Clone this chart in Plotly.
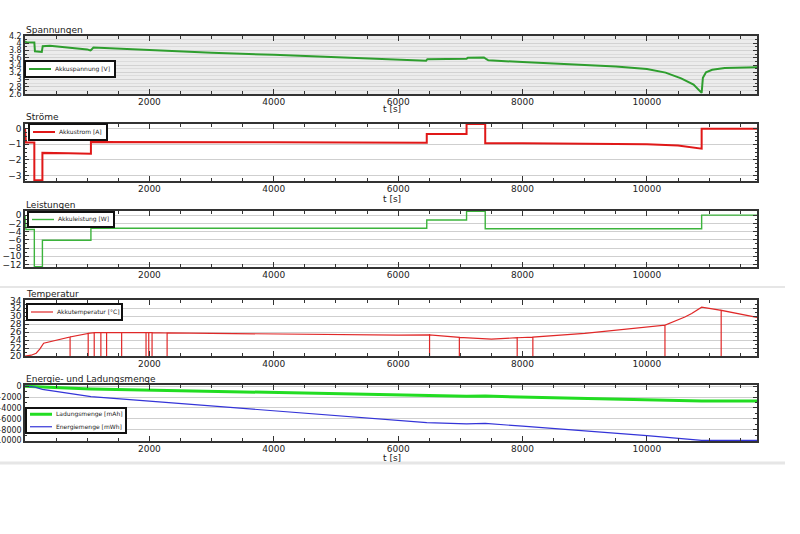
import plotly.graph_objects as go

W, H = 800, 534

# ---------------- data ----------------
t_voltage = [0, 20, 150, 160, 270, 285, 400, 700, 1000, 1050, 1060, 1100, 1500, 2000,
             3000, 4000, 5000, 6000, 6450, 6470, 7100, 7120, 7380, 7420, 7450, 8000,
             9000, 9500, 10000, 10300, 10550, 10750, 10880, 10900, 10950, 11050, 11250, 11770]
voltage = [4.05, 4.03, 4.02, 3.78, 3.76, 3.92, 3.93, 3.88, 3.83, 3.80, 3.81, 3.88, 3.85, 3.80,
           3.74, 3.68, 3.61, 3.54, 3.52, 3.56, 3.57, 3.60, 3.61, 3.56, 3.53, 3.48,
           3.41, 3.36, 3.29, 3.19, 3.03, 2.86, 2.63, 3.05, 3.20, 3.27, 3.32, 3.34]

t_current = [0, 15, 150, 150, 280, 280, 700, 1060, 1060, 2000, 4000, 6460, 6460, 7100, 7100,
             7400, 7400, 8000, 9000, 10000, 10500, 10880, 10880, 11770]
current = [0.0, -0.88, -0.88, -3.3, -3.3, -1.55, -1.58, -1.6, -0.85, -0.85, -0.87, -0.9, -0.34,
           -0.34, 0.3, 0.3, -0.93, -0.93, -0.95, -1.0, -1.08, -1.28, 0.0, 0.0]

t_power = [0, 15, 150, 150, 280, 280, 1060, 1060, 6460, 6460, 7100, 7100, 7400, 7400,
           10880, 10880, 11770]
power = [0.0, -3.5, -3.5, -12.5, -12.5, -6.1, -6.1, -3.2, -3.2, -1.2, -1.2, 0.9, 0.9, -3.3,
         -3.3, 0.0, 0.0]

t_temp = [0, 100, 180, 240, 300, 400, 725, 1016, 1113, 1220, 1312, 1554, 1946, 1990, 2043,
          2285, 3000, 4000, 5000, 6000, 6505, 6984, 7500, 7914, 8166, 9000, 9500, 10290,
          10610, 10720, 10880, 11194, 11770]
temp = [20.0, 20.2, 20.7, 21.8, 23.2, 23.6, 24.8, 25.7, 25.9, 25.9, 25.9, 25.9, 25.9, 25.9,
        25.9, 25.8, 25.7, 25.5, 25.4, 25.25, 25.3, 24.7, 24.25, 24.6, 24.75, 25.7, 26.5, 27.75,
        29.8, 30.7, 32.3, 31.5, 29.7]
temp_dropout_t = [725, 1016, 1113, 1220, 1312, 1554, 1946, 1990, 2043, 2285, 6505, 6984,
                  7914, 8166, 10290, 11194]
temp_dropout_value = 20.0

t_amount = [0, 150, 280, 1060, 2000, 4000, 6000, 6460, 7100, 7400, 8000, 9000, 10000,
            10880, 11770]
charge_mAh = [0, -37, -156, -503, -725, -1200, -1680, -1790, -1850, -1825, -1980, -2250,
              -2520, -2740, -2740]
energy_mWh = [0, -146, -597, -1915, -2750, -4530, -6300, -6710, -6920, -6850, -7350, -8200,
              -9100, -9960, -9960]

x_ticks = [2000, 4000, 6000, 8000, 10000]
x_tick_labels = ["2000", "4000", "6000", "8000", "10000"]

# temperature series with the sensor dropouts drawn as vertical drops
tt, tv = [], []
for t, v in zip(t_temp, temp):
    tt.append(t); tv.append(v)
    if t in temp_dropout_t:
        tt += [t, t]; tv += [temp_dropout_value, v]

# ---------------- figure ----------------
def px(x):
    return x / W

def py(y):
    return 1 - y / H

panels = [(36, 94), (124, 181), (211, 267), (300, 356), (385, 441)]

C_V, C_I, C_P, C_T, C_Q, C_E = "#2e9e2e", "#e01818", "#3cb43c", "#e02828", "#22dd22", "#3434d8"

fig = go.Figure()
fig.add_trace(go.Scatter(x=t_voltage, y=voltage, mode="lines", name="Akkuspannung [V]",
                         line=dict(color=C_V, width=2), xaxis="x", yaxis="y"))
fig.add_trace(go.Scatter(x=t_current, y=current, mode="lines", name="Akkustrom [A]",
                         line=dict(color=C_I, width=2), xaxis="x2", yaxis="y2"))
fig.add_trace(go.Scatter(x=t_power, y=power, mode="lines", name="Akkuleistung [W]",
                         line=dict(color=C_P, width=1.4), xaxis="x3", yaxis="y3"))
fig.add_trace(go.Scatter(x=tt, y=tv, mode="lines", name="Akkutemperatur [°C]",
                         line=dict(color=C_T, width=1.2), xaxis="x4", yaxis="y4"))
fig.add_trace(go.Scatter(x=t_amount, y=charge_mAh, mode="lines", name="Ladungsmenge [mAh]",
                         line=dict(color=C_Q, width=3), xaxis="x5", yaxis="y5"))
fig.add_trace(go.Scatter(x=t_amount, y=energy_mWh, mode="lines", name="Energiemenge [mWh]",
                         line=dict(color=C_E, width=1.2), xaxis="x5", yaxis="y5"))

y_specs = [
    dict(range=[2.6, 4.2], dtick=0.2, tick0=2.6, minor_dtick=0.1, bg="#ececec", grid="#d2d2d2", fs=8, fmt=""),
    dict(range=[-3.35, 0.3], dtick=1, tick0=0, minor_dtick=0.25, bg="white", grid="#cfcfcf", fs=9, fmt=""),
    dict(range=[-12.6, 1.0], dtick=2, tick0=0, minor_dtick=1, bg="white", grid="#cfcfcf", fs=9, fmt=""),
    dict(range=[20, 34.1], dtick=2, tick0=20, minor_dtick=1, bg="white", grid="#cfcfcf", fs=9, fmt=""),
    dict(range=[-10080, 220], dtick=2000, tick0=0, minor_dtick=1000, bg="white", grid="#cfcfcf", fs=8, fmt="d"),
]

layout = dict(width=W, height=H, margin=dict(l=0, r=0, t=0, b=0, autoexpand=False),
              showlegend=False, paper_bgcolor="white", plot_bgcolor="white",
              font=dict(family="DejaVu Sans", size=9, color="#222"),
              shapes=[], annotations=[])

for i, ((top, bot), ys) in enumerate(zip(panels, y_specs)):
    k = "" if i == 0 else str(i + 1)
    layout["xaxis" + k] = dict(
        domain=[px(25), px(757)], anchor="y" + k, range=[0, 11770], automargin=False,
        tickmode="array", tickvals=x_ticks, ticktext=x_tick_labels, ticks="inside", ticklen=5,
        tickwidth=1.2, tickcolor="#333", mirror="allticks", showline=True, linecolor="#333",
        linewidth=1.5, showgrid=False, zeroline=False, tickfont=dict(size=9, color="#222"),
        ticklabelstandoff=-2,
        minor=dict(dtick=500, tick0=0, ticks="inside", ticklen=3, tickcolor="#333", showgrid=False),
    )
    layout["yaxis" + k] = dict(
        domain=[py(bot), py(top)], anchor="x" + k, range=ys["range"], automargin=False,
        tickmode="linear", tick0=ys["tick0"], dtick=ys["dtick"], ticks="inside", ticklen=4,
        tickcolor="#333", mirror="allticks", showline=True, linecolor="#333", linewidth=1.5,
        showgrid=True, gridcolor=ys["grid"], gridwidth=1, zeroline=False, tickformat=ys["fmt"],
        tickfont=dict(size=ys["fs"], color="#222"),
        minor=dict(dtick=ys["minor_dtick"], ticks="inside", ticklen=2, tickcolor="#333",
                   showgrid=(i == 0), gridcolor="#dcdcdc"),
    )
    layout["shapes"].append(dict(type="rect", xref="paper", yref="paper", x0=px(25), x1=px(757),
                                 y0=py(bot), y1=py(top), fillcolor=ys["bg"], line=dict(width=0),
                                 layer="below"))

titles = ["Spannungen", "Ströme", "Leistungen", "Temperatur", "Energie- und Ladungsmenge"]
for (top, bot), title in zip(panels, titles):
    layout["annotations"].append(dict(text=title, x=px(24), y=py(top + 0.5), xref="paper",
                                      yref="paper", xanchor="left", yanchor="bottom",
                                      showarrow=False, font=dict(size=9, color="#222")))

for yc in [109, 199, 458]:
    layout["annotations"].append(dict(text="t [s]", x=px(392), y=py(yc), xref="paper",
                                      yref="paper", xanchor="center", yanchor="middle",
                                      showarrow=False, font=dict(size=9, color="#222")))

for ys_, wd in [(287, 2), (463, 3)]:
    layout["shapes"].append(dict(type="line", xref="paper", yref="paper", x0=0, x1=px(785),
                                 y0=py(ys_), y1=py(ys_), line=dict(color="#e6e6e6", width=wd)))

# legend boxes in the style of the original (box, line sample, label)
legends = [
    dict(box=(25, 61, 115, 77), items=[("Akkuspannung [V]", C_V, 2)]),
    dict(box=(29, 124, 107, 140), items=[("Akkustrom [A]", C_I, 2)]),
    dict(box=(28, 212, 114, 227), items=[("Akkuleistung [W]", C_P, 1.4)]),
    dict(box=(27, 304, 122, 320), items=[("Akkutemperatur [°C]", C_T, 1.2)]),
    dict(box=(26, 408, 126, 433), items=[("Ladungsmenge [mAh]", C_Q, 3),
                                         ("Energiemenge [mWh]", C_E, 1.2)]),
]
for lg in legends:
    x0, y0, x1, y1 = lg["box"]
    layout["shapes"].append(dict(type="rect", xref="paper", yref="paper", x0=px(x0), x1=px(x1),
                                 y0=py(y1), y1=py(y0), fillcolor="white",
                                 line=dict(color="#111", width=2), layer="above"))
    n = len(lg["items"])
    step = (y1 - y0) / n
    for j, (label, col, wd) in enumerate(lg["items"]):
        yc = y0 + step * (j + 0.5)
        layout["shapes"].append(dict(type="line", xref="paper", yref="paper", x0=px(x0 + 4),
                                     x1=px(x0 + 26), y0=py(yc), y1=py(yc),
                                     line=dict(color=col, width=wd), layer="above"))
        layout["annotations"].append(dict(text=label, x=px(x0 + 28), y=py(yc), xref="paper",
                                          yref="paper", xanchor="left", yanchor="middle",
                                          showarrow=False, font=dict(size=6, color="#222")))

fig.update_layout(**layout)
fig.write_html("out.html", config={"displayModeBar": False},
               post_script="document.body.style.margin='0px';")
